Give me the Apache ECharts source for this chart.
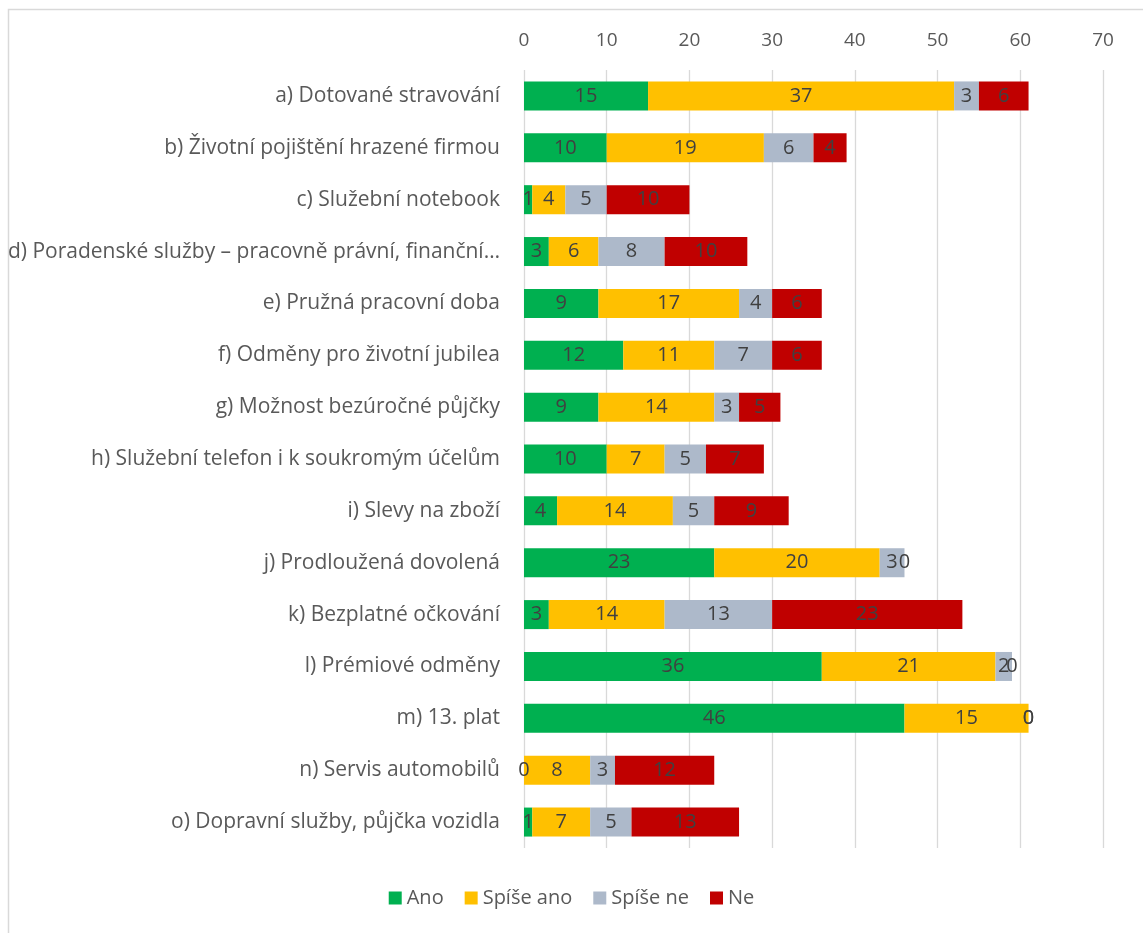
<!DOCTYPE html>
<html>
<head>
<meta charset="utf-8">
<script src="https://cdn.jsdelivr.net/npm/echarts@6/dist/echarts.min.js"></script>
<style>
html,body{margin:0;padding:0;background:#fff;}
#chart{width:1143px;height:933px;}
</style>
</head>
<body>
<div id="chart"></div>
<script>
const categories = [
  "a) Dotované stravování",
  "b) Životní pojištění hrazené firmou",
  "c) Služební notebook",
  "d) Poradenské služby – pracovně právní, finanční…",
  "e) Pružná pracovní doba",
  "f) Odměny pro životní jubilea",
  "g) Možnost bezúročné půjčky",
  "h) Služební telefon i k soukromým účelům",
  "i) Slevy na zboží",
  "j) Prodloužená dovolená",
  "k) Bezplatné očkování",
  "l) Prémiové odměny",
  "m) 13. plat",
  "n) Servis automobilů",
  "o) Dopravní služby, půjčka vozidla"
];
const ano      = [15, 10, 1, 3, 9, 12, 9, 10, 4, 23, 3, 36, 46, 0, 1];
const spiseAno = [37, 19, 4, 6, 17, 11, 14, 7, 14, 20, 14, 21, 15, 8, 7];
const spiseNe  = [3, 6, 5, 8, 4, 7, 3, 5, 5, 3, 13, 2, 0, 3, 5];
const ne       = [6, 4, 10, 10, 6, 6, 5, 7, 9, 0, 23, 0, 0, 12, 13];
const seriesNames = ["Ano", "Spíše ano", "Spíše ne", "Ne"];
const seriesColors = ["#00B050", "#FFC000", "#ADB9CA", "#C00000"];
const axisTicks = [0, 70, 10];

const FONT = "'Open Sans', Lato, sans-serif";
const chart = echarts.init(document.getElementById('chart'), null, {renderer: 'canvas'});
const allData = [ano, spiseAno, spiseNe, ne];
const series = allData.map((d, i) => ({
  name: seriesNames[i],
  type: 'bar',
  stack: 'total',
  data: d,
  barWidth: 29,
  itemStyle: {color: seriesColors[i]},
  label: {
    show: true,
    position: 'inside',
    color: '#404040',
    fontFamily: FONT,
    fontSize: 20
  }
}));

chart.setOption({
  animation: false,
  backgroundColor: '#ffffff',
  textStyle: {fontFamily: FONT},
  graphic: [{
    type: 'polyline',
    shape: {points: [[8.5, 940], [8.5, 9.5], [1150, 9.5]]},
    style: {stroke: '#d9d9d9', lineWidth: 1.5, fill: null},
    silent: true
  }],
  grid: {left: 524, right: 40, top: 70, bottom: 85, containLabel: false},
  legend: {
    bottom: 20,
    left: 'center',
    itemWidth: 13,
    itemHeight: 13,
    itemGap: 21,
    icon: 'rect',
    textStyle: {color: '#595959', fontSize: 20, fontFamily: FONT},
    data: seriesNames
  },
  xAxis: {
    type: 'value',
    position: 'top',
    min: axisTicks[0],
    max: axisTicks[1],
    interval: axisTicks[2],
    axisLine: {show: false},
    axisTick: {show: false},
    axisLabel: {color: '#595959', fontSize: 19, fontFamily: FONT, margin: 20},
    splitLine: {show: true, lineStyle: {color: '#d9d9d9', width: 1.3}}
  },
  yAxis: {
    type: 'category',
    inverse: true,
    data: categories,
    axisLine: {show: false},
    axisTick: {show: false},
    axisLabel: {
      color: '#595959', fontSize: 21, fontFamily: FONT, margin: 24,
      width: 510, overflow: 'truncate', ellipsis: '…'
    }
  },
  series: series
});
</script>
</body>
</html>
